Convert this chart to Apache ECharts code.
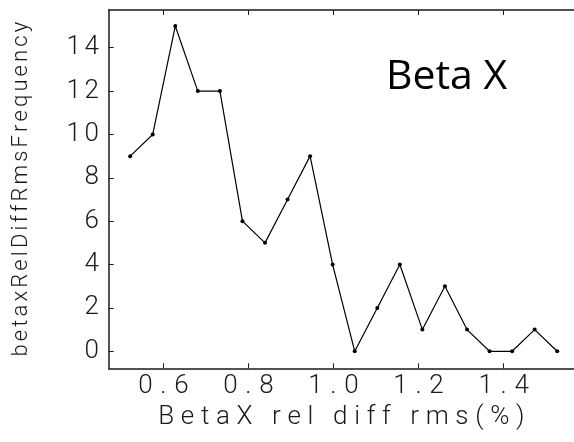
<!DOCTYPE html>
<html>
<head>
<meta charset="utf-8">
<script src="https://cdn.jsdelivr.net/npm/echarts@6/dist/echarts.min.js"></script>
<style>
  html, body { margin: 0; padding: 0; background: #fff; }
  #chart { width: 574px; height: 442px; }
</style>
</head>
<body>
<div id="chart"></div>
<script>
// Histogram of BetaX relative-difference rms, drawn as a polyline
const rmsBins = [0.522, 0.575, 0.628, 0.681, 0.733, 0.786, 0.839, 0.892, 0.945, 0.998,
                 1.050, 1.103, 1.156, 1.209, 1.262, 1.314, 1.367, 1.420, 1.473, 1.526];
const frequency = [9, 10, 15, 12, 12, 6, 5, 7, 9, 4, 0, 2, 4, 1, 3, 1, 0, 0, 1, 0];
const xTicks = [0.6, 0.8, 1.0, 1.2, 1.4];
const yTicks = [0, 2, 4, 6, 8, 10, 12, 14];
const xTitle = 'BetaX rel diff rms(%)';
const yTitle = 'betaxRelDiffRmsFrequency';
const panelLabel = 'Beta X';

const INK = '#1a1a1a';
const FONT = 'Roboto';
const WEIGHT = 300;

// Letter-spaced text: every glyph gets its own rich box, its natural
// advance plus a fixed extra gap, so the whole string fills `span` px.
const measureCtx = document.createElement('canvas').getContext('2d');
function letterSpaced(text, prefix, size, span) {
  measureCtx.font = WEIGHT + ' ' + size + 'px ' + FONT;
  const chars = Array.from(text);
  const adv = chars.map(ch => measureCtx.measureText(ch).width);
  const extra = (span - adv.reduce((a, b) => a + b, 0)) / chars.length;
  const styles = {};
  const str = chars.map((ch, i) => {
    const key = prefix + i;
    styles[key] = { width: adv[i] + extra, align: 'center', fontSize: size, fontFamily: FONT, fontWeight: WEIGHT, color: INK };
    return '{' + key + '|' + ch + '}';
  }).join('');
  return { str, styles };
}

// Tick numbers: fixed pitch per glyph
const tickStyles = { t: { width: 18, align: 'center', fontSize: 26, fontFamily: FONT, fontWeight: WEIGHT, color: INK } };
const tickText = s => Array.from(s).map(ch => '{t|' + ch + '}').join('');

const xName = letterSpaced(xTitle, 'xn', 26, 373);
const yName = letterSpaced(yTitle, 'yn', 22, 338);

const chart = echarts.init(document.getElementById('chart'), null, { renderer: 'canvas' });

const axisLineStyle = { show: true, onZero: false, lineStyle: { color: INK, width: 1.5 } };

chart.setOption({
  animation: false,
  backgroundColor: '#fff',
  grid: { left: 108.7, right: 0, top: 10, bottom: 73.7, containLabel: false },
  xAxis: [
    {
      type: 'value', position: 'bottom', min: 0.4715, max: 1.5655,
      axisLine: axisLineStyle,
      axisTick: { show: true, inside: true, length: 5, customValues: xTicks, lineStyle: { color: INK, width: 1 } },
      axisLabel: {
        show: true, margin: 5, customValues: xTicks, fontSize: 26, fontFamily: FONT,
        formatter: v => tickText(v.toFixed(1)), rich: tickStyles
      },
      splitLine: { show: false },
      name: xName.str, nameLocation: 'middle', nameGap: 17,
      nameTextStyle: { fontSize: 26, fontFamily: FONT, rich: xName.styles }
    },
    {
      type: 'value', position: 'top', min: 0.4715, max: 1.5655,
      axisLine: axisLineStyle,
      axisTick: { show: true, inside: true, length: 5, customValues: xTicks, lineStyle: { color: INK, width: 1 } },
      axisLabel: { show: false },
      splitLine: { show: false }
    }
  ],
  yAxis: {
    type: 'value', min: -0.785, max: 15.74,
    axisLine: axisLineStyle,
    axisTick: { show: true, inside: true, length: 5, customValues: yTicks, lineStyle: { color: INK, width: 1 } },
    axisLabel: {
      show: true, margin: 8, customValues: yTicks, fontSize: 26, fontFamily: FONT,
      formatter: v => tickText(String(v)), rich: tickStyles
    },
    splitLine: { show: false },
    name: yName.str, nameLocation: 'middle', nameGap: 76, nameRotate: 90,
    nameTextStyle: { fontSize: 22, fontFamily: FONT, rich: yName.styles }
  },
  graphic: [{
    type: 'text', left: 386, top: 57,
    style: { text: panelLabel, font: '41px "Open Sans"', fill: '#000' }
  }],
  series: [{
    type: 'line', xAxisIndex: 0,
    data: rmsBins.map((x, i) => [x, frequency[i]]),
    symbol: 'circle', symbolSize: 4,
    itemStyle: { color: '#000' },
    lineStyle: { color: '#000', width: 1.2 }
  }]
});
</script>
</body>
</html>
